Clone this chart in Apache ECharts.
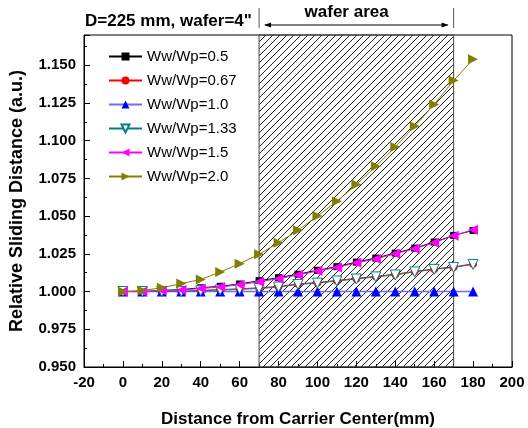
<!DOCTYPE html>
<html>
<head>
<meta charset="utf-8">
<script src="https://cdn.jsdelivr.net/npm/echarts@6/dist/echarts.min.js"></script>
<style>
html,body{margin:0;padding:0;background:#fff;}
#chart{width:528px;height:428px;}
</style>
</head>
<body>
<div id="chart"></div>
<script>
// ---- data ----
var xValues = [0,10,20,30,40,50,60,70,80,90,100,110,120,130,140,150,160,170,180];
var seriesNames = ['Ww/Wp=0.5','Ww/Wp=0.67','Ww/Wp=1.0','Ww/Wp=1.33','Ww/Wp=1.5','Ww/Wp=2.0'];
var ratio05  = [1.000,1.000,1.0008,1.0013,1.0025,1.0035,1.005,1.0072,1.0092,1.0115,1.0141,1.0165,1.0195,1.0222,1.0255,1.0288,1.0328,1.0372,1.0405];
var ratio067 = [1.000,1.000,1.000,1.0002,1.0008,1.0013,1.0018,1.0025,1.0034,1.0051,1.0060,1.0074,1.0087,1.0101,1.0115,1.0134,1.0150,1.0163,1.0184];
var ratio10  = [1.000,1.000,1.000,1.000,1.000,1.000,1.000,1.000,1.000,1.000,1.000,1.000,1.000,1.000,1.000,1.000,1.000,1.000,1.000];
var ratio133 = [1.000,1.000,1.000,1.0000,1.0005,1.001,1.0015,1.002,1.003,1.0047,1.0056,1.007,1.0083,1.0097,1.011,1.013,1.0147,1.016,1.018];
var ratio15  = [1.000,1.000,1.0007,1.001,1.002,1.003,1.0045,1.0065,1.0085,1.011,1.0136,1.016,1.019,1.0216,1.025,1.0284,1.0324,1.037,1.041];
var ratio20  = [1.000,1.0007,1.0025,1.0053,1.008,1.0129,1.0185,1.0247,1.0324,1.0407,1.050,1.0598,1.0709,1.083,1.0958,1.1096,1.124,1.1398,1.154];
var xTickLabels = ['-20','0','20','40','60','80','100','120','140','160','180','200'];
var yTickLabels = ['0.950','0.975','1.000','1.025','1.050','1.075','1.100','1.125','1.150'];
var waferStart = 70, waferEnd = 170;

// ---- hatch pattern ----
var pc = document.createElement('canvas');
pc.width = 7; pc.height = 7;
var g = pc.getContext('2d');
g.strokeStyle = '#222';
g.lineWidth = 1;
g.beginPath();
g.moveTo(-1,8); g.lineTo(8,-1);
g.moveTo(-8,8); g.lineTo(1,-1);
g.moveTo(6,8); g.lineTo(15,-1);
g.stroke();

function pairs(vals){ return xValues.map(function(x,i){ return [x, vals[i]]; }); }

var font = 'Arial, "Liberation Sans", sans-serif';
var chart = echarts.init(document.getElementById('chart'), null, {renderer:'canvas'});

var option = {
  animation:false,
  backgroundColor:'#fff',
  grid:{left:84,right:16,top:35,bottom:61,containLabel:false,outerBoundsMode:'none',
        show:true,borderColor:'#000',borderWidth:1,backgroundColor:'transparent'},
  legend:{
    orient:'vertical', left:103, top:44,
    itemWidth:33, itemHeight:10, itemGap:9,
    data:seriesNames,
    textStyle:{fontFamily:font,fontSize:15,color:'#000'}
  },
  xAxis:{
    type:'value', min:-20, max:200, interval:20,
    name:'Distance from Carrier Center(mm)', nameLocation:'middle', nameGap:44,
    nameTextStyle:{fontFamily:font,fontSize:17,fontWeight:'bold',color:'#000'},
    axisLine:{onZero:false,lineStyle:{color:'#000',width:1}},
    axisTick:{inside:true,length:6,lineStyle:{color:'#000'}},
    minorTick:{show:true,splitNumber:2,length:3,lineStyle:{color:'#000'}},
    splitLine:{show:false},
    axisLabel:{fontFamily:font,fontSize:15,fontWeight:'bold',color:'#000',margin:8,
      formatter:function(v){ var s=String(v); return xTickLabels.indexOf(s)>=0?s:''; }}
  },
  yAxis:{
    type:'value', min:0.95, max:1.17, interval:0.025,
    name:'Relative Sliding Distance (a.u.)', nameLocation:'middle', nameGap:58,
    nameTextStyle:{fontFamily:font,fontSize:18,fontWeight:'bold',color:'#000'},
    axisLine:{onZero:false,lineStyle:{color:'#000',width:1}},
    axisTick:{inside:true,length:6,lineStyle:{color:'#000'}},
    minorTick:{show:true,splitNumber:2,length:3,lineStyle:{color:'#000'}},
    splitLine:{show:false},
    axisLabel:{fontFamily:font,fontSize:15,fontWeight:'bold',color:'#000',margin:8,showMaxLabel:false,
      formatter:function(v){ var s=v.toFixed(3); return yTickLabels.indexOf(s)>=0?s:''; }}
  },
  series:[
    {name:seriesNames[0],type:'line',data:pairs(ratio05),symbol:'rect',symbolSize:7,
     lineStyle:{color:'#000',width:1},itemStyle:{color:'#000'},
     markArea:{silent:true,itemStyle:{color:{image:pc,repeat:'repeat'},borderColor:'#444',borderWidth:1},
       data:[[{xAxis:waferStart},{xAxis:waferEnd}]]}},
    {name:seriesNames[1],type:'line',data:pairs(ratio067),symbol:'circle',symbolSize:8,
     lineStyle:{color:'#ff0000',width:1},itemStyle:{color:'#ff0000'}},
    {name:seriesNames[2],type:'line',data:pairs(ratio10),symbol:'triangle',symbolSize:10,
     lineStyle:{color:'#6b6bff',width:1.5},itemStyle:{color:'#0000ff'}},
    {name:seriesNames[3],type:'line',data:pairs(ratio133),symbol:'triangle',symbolRotate:180,symbolSize:10,
     lineStyle:{color:'#008080',width:1},itemStyle:{color:'#ffffff',borderColor:'#008080',borderWidth:1}},
    {name:seriesNames[4],type:'line',data:pairs(ratio15),symbol:'triangle',symbolRotate:90,symbolSize:10,
     lineStyle:{color:'#ff00ff',width:1},itemStyle:{color:'#ff00ff'}},
    {name:seriesNames[5],type:'line',data:pairs(ratio20),symbol:'triangle',symbolRotate:-90,symbolSize:10,
     lineStyle:{color:'#808000',width:1},itemStyle:{color:'#808000'}}
  ]
};
chart.setOption(option);

// ---- annotations above the plot, positioned from the axis scale ----
var pA = chart.convertToPixel({gridIndex:0},[waferStart,1.17]);
var pB = chart.convertToPixel({gridIndex:0},[waferEnd,1.17]);
var pL = chart.convertToPixel({gridIndex:0},[-20,1.17]);
var x1 = pA[0], x2 = pB[0];
var ay = 25;
chart.setOption({
  graphic:[
    {type:'line',shape:{x1:x1,y1:8,x2:x1,y2:28},style:{stroke:'#555',lineWidth:1}},
    {type:'line',shape:{x1:x2,y1:8,x2:x2,y2:28},style:{stroke:'#555',lineWidth:1}},
    {type:'line',shape:{x1:x1+6,y1:ay,x2:x2-6,y2:ay},style:{stroke:'#000',lineWidth:1}},
    {type:'polygon',shape:{points:[[x1+5,ay],[x1+12,ay-2.5],[x1+12,ay+2.5]]},style:{fill:'#000'}},
    {type:'polygon',shape:{points:[[x2-5,ay],[x2-12,ay-2.5],[x2-12,ay+2.5]]},style:{fill:'#000'}},
    {type:'text',x:x1+(x2-x1)*0.45,y:12,style:{text:'wafer area',fontFamily:font,fontSize:17,fontWeight:'bold',fill:'#000',align:'center',verticalAlign:'middle'}},
    {type:'text',x:pL[0]+1,y:21,style:{text:'D=225 mm, wafer=4"',fontFamily:font,fontSize:17,fontWeight:'bold',fill:'#000',align:'left',verticalAlign:'middle'}}
  ]
});
</script>
</body>
</html>
